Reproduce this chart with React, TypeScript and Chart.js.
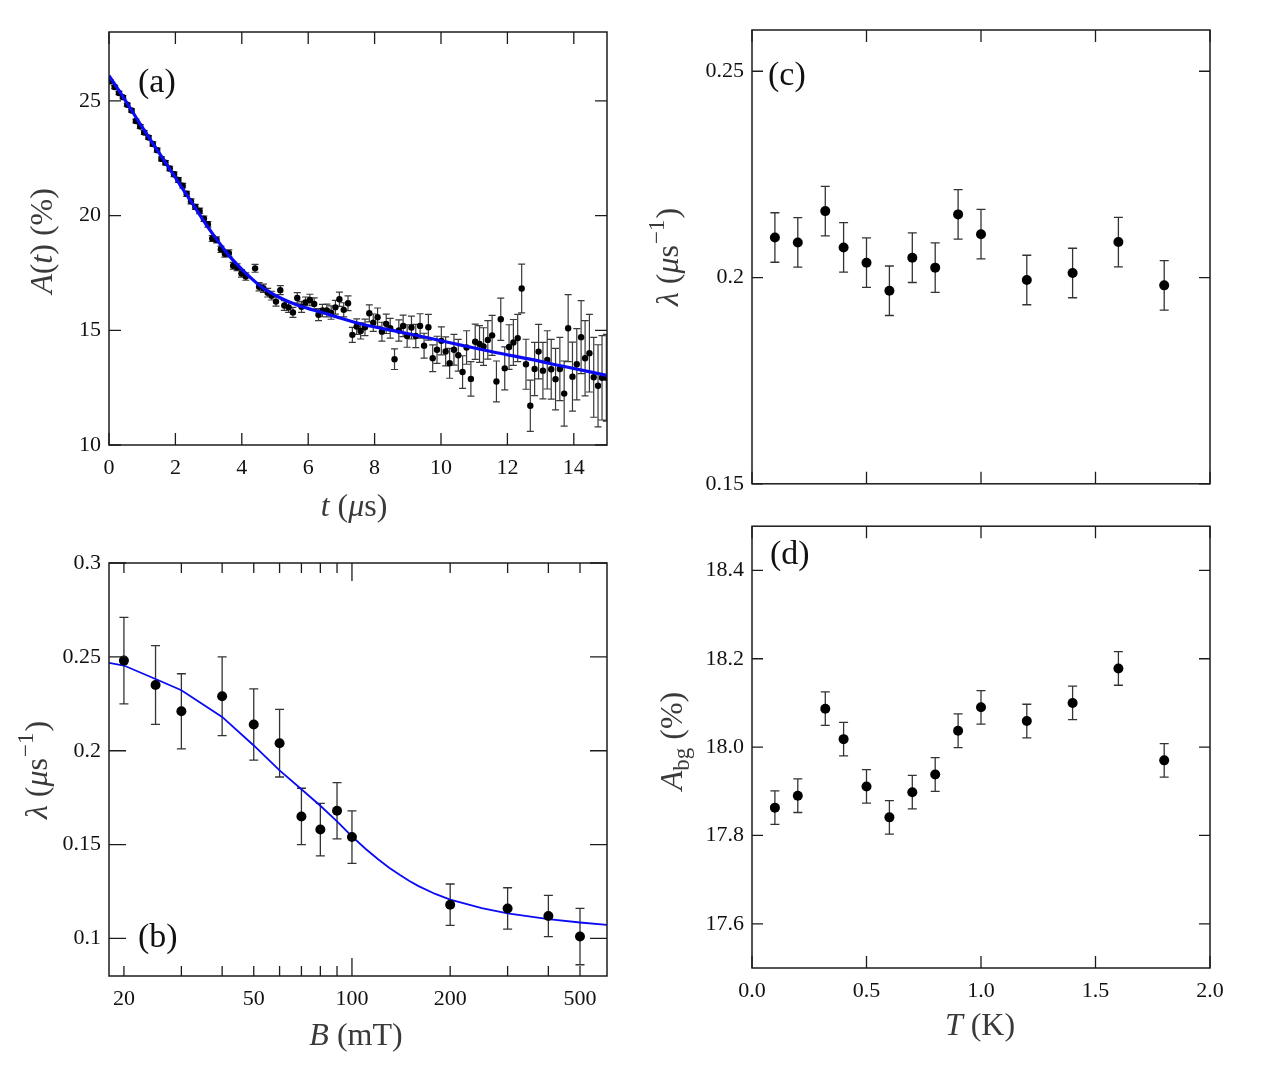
import React, { useEffect, useRef } from "react";
import { Chart, registerables } from "chart.js";

Chart.register(...registerables);

const SERIF = '"Liberation Serif", "DejaVu Serif", "Times New Roman", serif';

// ---------- (a) asymmetry A(t) ----------
const asymTime = [
  0.04, 0.17, 0.3, 0.42, 0.55, 0.68, 0.81, 0.94, 1.06, 1.19,
  1.32, 1.45, 1.58, 1.7, 1.83, 1.96, 2.09, 2.22, 2.34, 2.47,
  2.6, 2.73, 2.86, 2.98, 3.11, 3.24, 3.37, 3.49, 3.61, 3.74,
  3.86, 3.99, 4.12, 4.4, 4.52, 4.65, 4.78, 4.9, 5.03, 5.16,
  5.28, 5.41, 5.54, 5.67, 5.8, 5.92, 6.05, 6.18, 6.31, 6.43,
  6.56, 6.69, 6.82, 6.94, 7.07, 7.2, 7.33, 7.46, 7.58, 7.71,
  7.84, 7.96, 8.09, 8.22, 8.35, 8.47, 8.6, 8.73, 8.86, 8.98,
  9.11, 9.24, 9.37, 9.49, 9.62, 9.75, 9.88, 10.01, 10.14, 10.26,
  10.39, 10.52, 10.65, 10.77, 10.9, 11.03, 11.16, 11.28, 11.41, 11.54,
  11.67, 11.8, 11.92, 12.05, 12.18, 12.31, 12.43, 12.56, 12.69, 12.82,
  12.94, 13.07, 13.2, 13.32, 13.45, 13.58, 13.71, 13.83, 13.96, 14.09,
  14.22, 14.34, 14.47, 14.6, 14.73, 14.85, 14.98,
];
const asymValue = [
  25.85, 25.6, 25.34, 25.16, 24.83, 24.58, 24.12, 23.88, 23.62, 23.4,
  23.12, 22.85, 22.47, 22.3, 22.05, 21.8, 21.55, 21.3, 20.95, 20.62,
  20.38, 20.2, 19.86, 19.62, 19.0, 18.94, 18.53, 18.33, 18.36, 17.81,
  17.75, 17.48, 17.34, 17.7, 16.9, 16.83, 16.64, 16.51, 16.25, 16.75,
  16.08, 16.0, 15.78, 16.41, 16.02, 16.21, 16.32, 16.15, 15.68, 15.86,
  15.86, 15.77, 16.0, 16.35, 15.89, 16.18, 14.8, 15.16, 14.97, 15.13,
  15.74, 15.33, 15.57, 14.94, 15.28, 15.09, 13.74, 14.99, 15.19, 14.75,
  15.12, 14.75, 15.19, 14.33, 15.13, 13.78, 14.15, 14.54, 14.08, 13.56,
  14.15, 13.91, 13.18, 14.25, 12.88, 14.5, 14.4, 14.29, 14.58, 14.78,
  12.77, 15.48, 13.34, 14.27, 14.47, 14.66, 16.82, 13.52, 11.71, 13.31,
  14.07, 13.24, 13.71, 13.3, 12.87, 13.31, 12.24, 15.09, 12.98, 13.52,
  14.7, 13.78, 14.0, 12.95, 12.58, 12.93, 12.93,
];
const asymErr = [
  0.06, 0.07, 0.07, 0.07, 0.07, 0.07, 0.08, 0.08, 0.08, 0.08,
  0.09, 0.09, 0.09, 0.09, 0.1, 0.1, 0.1, 0.1, 0.11, 0.11,
  0.11, 0.12, 0.12, 0.12, 0.13, 0.13, 0.14, 0.14, 0.14, 0.15,
  0.15, 0.16, 0.16, 0.17, 0.18, 0.18, 0.19, 0.19, 0.2, 0.2,
  0.21, 0.22, 0.22, 0.23, 0.24, 0.24, 0.25, 0.26, 0.26, 0.27,
  0.28, 0.29, 0.3, 0.31, 0.31, 0.32, 0.33, 0.34, 0.35, 0.36,
  0.37, 0.38, 0.4, 0.41, 0.42, 0.43, 0.45, 0.46, 0.47, 0.49,
  0.5, 0.51, 0.53, 0.54, 0.56, 0.58, 0.59, 0.61, 0.63, 0.65,
  0.67, 0.69, 0.71, 0.73, 0.75, 0.77, 0.8, 0.82, 0.84, 0.87,
  0.89, 0.92, 0.94, 0.97, 1.0, 1.03, 1.06, 1.09, 1.12, 1.16,
  1.19, 1.23, 1.27, 1.3, 1.34, 1.38, 1.42, 1.46, 1.5, 1.55,
  1.59, 1.64, 1.69, 1.74, 1.79, 1.84, 1.89,
];
const asymFitTime = [
  0, 0.5, 1.0, 1.5, 2.0, 2.5, 3.0, 3.44, 3.64, 4.15, 4.65, 5.15,
  5.65, 6.15, 6.66, 7.66, 8.67, 9.67, 10.67, 11.68, 12.68, 13.68, 15.0,
];
const asymFitValue = [
  26.1, 25.0, 23.85, 22.75, 21.65, 20.55, 19.45, 18.58, 18.21, 17.45, 16.83, 16.42,
  16.11, 15.88, 15.67, 15.25, 14.95, 14.65, 14.33, 14.02, 13.74, 13.43, 13.03,
];
const timeTicks = [0, 2, 4, 6, 8, 10, 12, 14];
const asymTicks = [10, 15, 20, 25];

// ---------- (b) relaxation rate vs field ----------
const fieldB = [20, 25, 30, 40, 50, 60, 70, 80, 90, 100, 200, 300, 400, 500];
const lambdaB = [0.248, 0.235, 0.221, 0.229, 0.214, 0.204, 0.165, 0.158, 0.168, 0.154, 0.118, 0.116, 0.112, 0.101];
const lambdaBErr = [0.023, 0.021, 0.02, 0.021, 0.019, 0.018, 0.015, 0.014, 0.015, 0.014, 0.011, 0.011, 0.011, 0.015];
const fitField = [
  18, 20, 25, 30, 40, 50, 60, 70, 80, 90, 100, 110, 120, 130, 140, 150, 160, 180,
  200, 250, 300, 400, 500, 605,
];
const fitLambda = [
  0.2468, 0.2454, 0.2382, 0.2322, 0.218, 0.2028, 0.1895, 0.1795, 0.1707, 0.1624, 0.1544,
  0.1478, 0.1423, 0.1377, 0.1339, 0.1306, 0.1279, 0.1237, 0.1207, 0.1162, 0.1134, 0.1103,
  0.1085, 0.1072,
];
const fieldTicks = [20, 30, 40, 50, 60, 70, 80, 90, 100, 200, 300, 400, 500];
const fieldLabels = [20, 50, 100, 200, 500];
const lambdaBTicks = [0.1, 0.15, 0.2, 0.25, 0.3];

// ---------- (c), (d) temperature scans ----------
const tempK = [0.1, 0.2, 0.32, 0.4, 0.5, 0.6, 0.7, 0.8, 0.9, 1.0, 1.2, 1.4, 1.6, 1.8];
const lambdaT = [0.2097, 0.2085, 0.2161, 0.2073, 0.2036, 0.1968, 0.2048, 0.2024, 0.2153, 0.2105, 0.1994, 0.2011, 0.2086, 0.1981];
const lambdaTErr = [0.006, 0.006, 0.006, 0.006, 0.006, 0.006, 0.006, 0.006, 0.006, 0.006, 0.006, 0.006, 0.006, 0.006];
const bgAsym = [17.863, 17.89, 18.087, 18.018, 17.911, 17.841, 17.898, 17.938, 18.037, 18.09, 18.059, 18.1, 18.178, 17.97];
const bgAsymErr = [0.038, 0.038, 0.038, 0.038, 0.038, 0.038, 0.038, 0.038, 0.038, 0.038, 0.038, 0.038, 0.038, 0.038];
const tempTicks = [0, 0.5, 1.0, 1.5, 2.0];
const lambdaTTicks = [0.15, 0.2, 0.25];
const bgTicks = [17.6, 17.8, 18.0, 18.2, 18.4];

// ---------- drawing helpers ----------
type Rich = { t: string; it?: boolean; sub?: boolean; sup?: boolean };
type TextItem = { segs: Rich[]; x: number; y: number; size: number; rotate?: boolean; left?: boolean; color?: string };
type Axis = {
  type: "linear" | "logarithmic";
  min: number;
  max: number;
  ticks: number[];
  labels: number[];
  fmt: (v: number) => string;
  len: number;
  long?: number[];
  longLen?: number;
};
type ErrSet = { x: number[]; y: number[]; e: number[]; cap: number; width: number; color: string };
type Panel = {
  left: number;
  top: number;
  w: number;
  h: number;
  area: { l: number; t: number; r: number; b: number };
  xAxis: Axis;
  yAxis: Axis;
  datasets: any[];
  errs: ErrSet[];
  texts: TextItem[];
};

const TITLE = 32;
const TITLE_COLOR = "#3a3a3a";

function drawRich(ctx: CanvasRenderingContext2D, item: TextItem, ox: number, oy: number) {
  const { segs, size } = item;
  const fontFor = (s: Rich) =>
    `${s.it ? "italic " : ""}${s.sub || s.sup ? Math.round(size * 0.72) : size}px ${SERIF}`;
  ctx.save();
  ctx.translate(item.x - ox, item.y - oy);
  if (item.rotate) ctx.rotate(-Math.PI / 2);
  let total = 0;
  const widths = segs.map((s) => {
    ctx.font = fontFor(s);
    const w = ctx.measureText(s.t).width + (s.sup ? 2 : 0);
    total += w;
    return w;
  });
  let x = item.left ? 0 : -total / 2;
  ctx.fillStyle = item.color || TITLE_COLOR;
  ctx.textBaseline = "alphabetic";
  ctx.textAlign = "left";
  const base = size * 0.3;
  segs.forEach((s, i) => {
    ctx.font = fontFor(s);
    const dy = s.sub ? size * 0.22 : s.sup ? -size * 0.42 : 0;
    ctx.fillText(s.t, x + (s.sup ? 1 : 0), base + dy);
    x += widths[i];
  });
  ctx.restore();
}

function framePlugin(p: Panel) {
  return {
    id: "frame",
    beforeDatasetsDraw(chart: any) {
      const { ctx, chartArea: a, scales } = chart;
      ctx.save();
      ctx.beginPath();
      ctx.rect(a.left, a.top, a.right - a.left, a.bottom - a.top);
      ctx.clip();
      for (const s of p.errs) {
        ctx.strokeStyle = s.color;
        ctx.lineWidth = s.width;
        ctx.beginPath();
        s.x.forEach((xv, i) => {
          const px = scales.x.getPixelForValue(xv);
          const hi = scales.y.getPixelForValue(s.y[i] + s.e[i]);
          const lo = scales.y.getPixelForValue(s.y[i] - s.e[i]);
          ctx.moveTo(px, hi);
          ctx.lineTo(px, lo);
          ctx.moveTo(px - s.cap, hi);
          ctx.lineTo(px + s.cap, hi);
          ctx.moveTo(px - s.cap, lo);
          ctx.lineTo(px + s.cap, lo);
        });
        ctx.stroke();
      }
      ctx.restore();
    },
    afterDatasetsDraw(chart: any) {
      const { ctx, chartArea: a, scales } = chart;
      ctx.save();
      ctx.strokeStyle = "#1c1c1c";
      ctx.lineWidth = 1.3;
      ctx.beginPath();
      for (const v of p.xAxis.ticks) {
        const px = scales.x.getPixelForValue(v);
        const len = p.xAxis.long && p.xAxis.long.includes(v) ? p.xAxis.longLen! : p.xAxis.len;
        ctx.moveTo(px, a.bottom);
        ctx.lineTo(px, a.bottom - len);
        ctx.moveTo(px, a.top);
        ctx.lineTo(px, a.top + len);
      }
      for (const v of p.yAxis.ticks) {
        const py = scales.y.getPixelForValue(v);
        ctx.moveTo(a.left, py);
        ctx.lineTo(a.left + p.yAxis.len, py);
        ctx.moveTo(a.right, py);
        ctx.lineTo(a.right - p.yAxis.len, py);
      }
      ctx.stroke();
      ctx.lineWidth = 1.5;
      ctx.strokeRect(a.left, a.top, a.right - a.left, a.bottom - a.top);
      ctx.restore();
    },
    afterDraw(chart: any) {
      const { ctx } = chart;
      for (const t of p.texts) drawRich(ctx, t, p.left, p.top);
    },
  };
}

function scaleOptions(ax: Axis, which: "x" | "y", p: Panel) {
  return {
    type: ax.type,
    min: ax.min,
    max: ax.max,
    position: which === "x" ? "bottom" : "left",
    grid: { display: false, drawTicks: false },
    border: { display: false },
    afterBuildTicks: (s: any) => {
      s.ticks = ax.ticks.map((v) => ({ value: v }));
    },
    afterFit: (s: any) => {
      if (which === "x") s.height = p.h - p.area.b;
      else s.width = p.area.l;
    },
    ticks: {
      autoSkip: false,
      maxRotation: 0,
      minRotation: 0,
      padding: which === "x" ? 10 : 8,
      color: "#111",
      font: { family: SERIF, size: 22 },
      callback: (v: any) => {
        const n = Number(v);
        return ax.labels.some((l) => Math.abs(l - n) < 1e-9) ? ax.fmt(n) : "";
      },
    },
  };
}

const pts = (xs: number[], ys: number[]) => xs.map((x, i) => ({ x, y: ys[i] }));
const trim = (v: number) => String(Number(v.toFixed(3)));

const lambdaTitle: Rich[] = [
  { t: "λ", it: true },
  { t: " (" },
  { t: "μ", it: true },
  { t: "s" },
  { t: "−1", sup: true },
  { t: ")" },
];

const panels: Panel[] = [
  {
    left: 0,
    top: 0,
    w: 640,
    h: 530,
    area: { l: 109, t: 32, r: 607, b: 445 },
    xAxis: { type: "linear", min: 0, max: 15, ticks: timeTicks, labels: timeTicks, fmt: trim, len: 12 },
    yAxis: { type: "linear", min: 10, max: 28, ticks: asymTicks, labels: asymTicks, fmt: trim, len: 12 },
    datasets: [
      {
        data: pts(asymFitTime, asymFitValue),
        showLine: true,
        pointRadius: 0,
        borderColor: "#0a0af5",
        borderWidth: 3.2,
        cubicInterpolationMode: "monotone",
        order: 0,
      },
      {
        data: pts(asymTime, asymValue),
        pointRadius: 3.2,
        pointBackgroundColor: "#000",
        pointBorderWidth: 0,
        order: 1,
      },
    ],
    errs: [{ x: asymTime, y: asymValue, e: asymErr, cap: 3.5, width: 1.2, color: "#3a3a3a" }],
    texts: [
      { segs: [{ t: "(a)" }], x: 138, y: 82, size: 34, left: true, color: "#111" },
      { segs: [{ t: "A", it: true }, { t: "(" }, { t: "t", it: true }, { t: ") (%)" }], x: 42, y: 241, size: TITLE, rotate: true },
      { segs: [{ t: "t", it: true }, { t: " (" }, { t: "μ", it: true }, { t: "s)" }], x: 354, y: 506, size: TITLE },
    ],
  },
  {
    left: 0,
    top: 530,
    w: 640,
    h: 539,
    area: { l: 109, t: 33, r: 607, b: 446 },
    xAxis: {
      type: "logarithmic",
      min: 18,
      max: 605,
      ticks: fieldTicks,
      labels: fieldLabels,
      fmt: trim,
      len: 10,
      long: [100],
      longLen: 18,
    },
    yAxis: { type: "linear", min: 0.08, max: 0.3, ticks: lambdaBTicks, labels: lambdaBTicks, fmt: trim, len: 17 },
    datasets: [
      {
        data: pts(fieldB, lambdaB),
        pointRadius: 5,
        pointBackgroundColor: "#000",
        pointBorderWidth: 0,
        order: 0,
      },
      {
        data: pts(fitField, fitLambda),
        showLine: true,
        pointRadius: 0,
        borderColor: "#0a0af5",
        borderWidth: 1.8,
        tension: 0,
        order: 1,
      },
    ],
    errs: [{ x: fieldB, y: lambdaB, e: lambdaBErr, cap: 4.5, width: 1.3, color: "#333" }],
    texts: [
      { segs: [{ t: "(b)" }], x: 138, y: 937, size: 34, left: true, color: "#111" },
      { segs: lambdaTitle, x: 37, y: 770, size: TITLE, rotate: true },
      { segs: [{ t: "B", it: true }, { t: " (mT)" }], x: 356, y: 1035, size: TITLE },
    ],
  },
  {
    left: 640,
    top: 0,
    w: 635,
    h: 505,
    area: { l: 112, t: 30, r: 570, b: 485 },
    xAxis: { type: "linear", min: 0, max: 2, ticks: tempTicks, labels: [], fmt: trim, len: 12 },
    yAxis: { type: "linear", min: 0.15, max: 0.26, ticks: lambdaTTicks, labels: lambdaTTicks, fmt: trim, len: 11 },
    datasets: [
      {
        data: pts(tempK, lambdaT),
        pointRadius: 5,
        pointBackgroundColor: "#000",
        pointBorderWidth: 0,
      },
    ],
    errs: [{ x: tempK, y: lambdaT, e: lambdaTErr, cap: 4.5, width: 1.3, color: "#333" }],
    texts: [
      { segs: [{ t: "(c)" }], x: 768, y: 75, size: 34, left: true, color: "#111" },
      { segs: lambdaTitle, x: 668, y: 257, size: TITLE, rotate: true },
    ],
  },
  {
    left: 640,
    top: 505,
    w: 635,
    h: 564,
    area: { l: 112, t: 9, r: 570, b: 463 },
    xAxis: { type: "linear", min: 0, max: 2, ticks: tempTicks, labels: tempTicks, fmt: (v) => v.toFixed(1), len: 12 },
    yAxis: { type: "linear", min: 17.5, max: 18.5, ticks: bgTicks, labels: bgTicks, fmt: (v) => v.toFixed(1), len: 11 },
    datasets: [
      {
        data: pts(tempK, bgAsym),
        pointRadius: 5,
        pointBackgroundColor: "#000",
        pointBorderWidth: 0,
      },
    ],
    errs: [{ x: tempK, y: bgAsym, e: bgAsymErr, cap: 4.5, width: 1.3, color: "#333" }],
    texts: [
      { segs: [{ t: "(d)" }], x: 770, y: 554, size: 34, left: true, color: "#111" },
      { segs: [{ t: "A", it: true }, { t: "bg", sub: true }, { t: " (%)" }], x: 672, y: 741, size: TITLE, rotate: true },
      { segs: [{ t: "T", it: true }, { t: " (K)" }], x: 980, y: 1025, size: TITLE },
    ],
  },
];

function PanelChart({ p }: { p: Panel }) {
  const ref = useRef<HTMLCanvasElement>(null);
  useEffect(() => {
    if (!ref.current) return;
    const chart = new Chart(ref.current, {
      type: "scatter",
      data: { datasets: p.datasets },
      options: {
        responsive: false,
        maintainAspectRatio: false,
        animation: false,
        devicePixelRatio: 1,
        events: [],
        layout: { padding: { left: 0, top: p.area.t, right: p.w - p.area.r, bottom: 0 } },
        plugins: { legend: { display: false }, tooltip: { enabled: false } },
        scales: {
          x: scaleOptions(p.xAxis, "x", p),
          y: scaleOptions(p.yAxis, "y", p),
        },
      } as any,
      plugins: [framePlugin(p)],
    });
    return () => chart.destroy();
  }, [p]);
  return (
    <canvas
      ref={ref}
      width={p.w}
      height={p.h}
      style={{ position: "absolute", left: p.left, top: p.top, width: p.w, height: p.h }}
    />
  );
}

export default function App() {
  return (
    <div style={{ position: "absolute", left: 0, top: 0, width: 1275, height: 1069, background: "#fff" }}>
      {panels.map((p, i) => (
        <PanelChart key={i} p={p} />
      ))}
    </div>
  );
}
